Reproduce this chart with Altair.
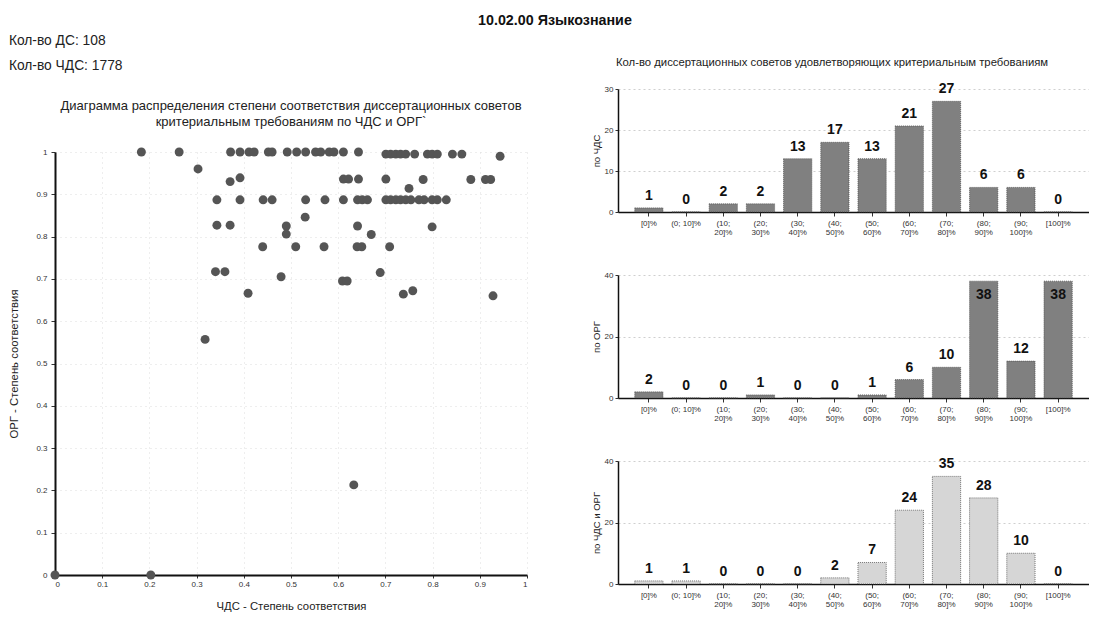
import altair as alt
import pandas as pd

FONT = "Liberation Sans"

# ---- scatter data (ЧДС vs ОРГ degree of compliance) ----
chds_x = [
    0.183, 0.263, 0.372, 0.392, 0.411, 0.422, 0.452, 0.460, 0.492, 0.512,
    0.531, 0.552, 0.563, 0.581, 0.591, 0.611, 0.643, 0.701, 0.711, 0.722,
    0.732, 0.743, 0.762, 0.789, 0.799, 0.810, 0.842, 0.862, 0.943,
    0.303,
    0.371, 0.392, 0.611, 0.622, 0.643, 0.701, 0.750, 0.780, 0.881, 0.912, 0.923,
    0.343, 0.392, 0.441, 0.460, 0.531, 0.572, 0.611, 0.641, 0.651, 0.662,
    0.701, 0.711, 0.722, 0.732, 0.743, 0.754, 0.771, 0.782, 0.799, 0.810, 0.829,
    0.530,
    0.343, 0.371, 0.490, 0.641, 0.799,
    0.490, 0.670,
    0.440, 0.510, 0.570, 0.640, 0.650, 0.709,
    0.340, 0.360, 0.479, 0.609, 0.619, 0.689,
    0.409, 0.738, 0.758, 0.928,
    0.318, 0.633,
    0.0, 0.203,
]
org_y = [
    1.0, 1.0, 1.0, 1.0, 1.0, 1.0, 1.0, 1.0, 1.0, 1.0,
    1.0, 1.0, 1.0, 1.0, 1.0, 1.0, 1.0, 0.995, 0.995, 0.995,
    0.995, 0.995, 0.995, 0.995, 0.995, 0.995, 0.995, 0.995, 0.99,
    0.96,
    0.930, 0.939, 0.936, 0.936, 0.936, 0.936, 0.914, 0.935, 0.935, 0.935, 0.935,
    0.887, 0.887, 0.887, 0.887, 0.887, 0.887, 0.887, 0.887, 0.887, 0.887,
    0.887, 0.887, 0.887, 0.887, 0.887, 0.887, 0.887, 0.887, 0.887, 0.887, 0.887,
    0.846,
    0.827, 0.827, 0.825, 0.825, 0.823,
    0.806, 0.805,
    0.776, 0.776, 0.776, 0.776, 0.776, 0.776,
    0.717, 0.717, 0.705, 0.695, 0.695, 0.715,
    0.666, 0.664, 0.672, 0.660,
    0.557, 0.213,
    0.0, 0.0,
]
scatter_ticks = [0, 0.1, 0.2, 0.3, 0.4, 0.5, 0.6, 0.7, 0.8, 0.9, 1]

scatter_title_lines = [
    "Диаграмма распределения степени соответствия диссертационных советов",
    "критериальным требованиям по ЧДС и ОРГ`",
]
info_lines = ["Кол-во ДС: 108", "Кол-во ЧДС: 1778"]
main_title = "10.02.00 Языкознание"
bars_header = "Кол-во диссертационных советов удовлетворяющих критериальным требованиям"

# ---- bar data ----
categories = ["[0]%", "(0; 10]%", "(10;|20]%", "(20;|30]%", "(30;|40]%", "(40;|50]%",
              "(50;|60]%", "(60;|70]%", "(70;|80]%", "(80;|90]%", "(90;|100]%", "[100]%"]
vals_chds = [1, 0, 2, 2, 13, 17, 13, 21, 27, 6, 6, 0]
vals_org = [2, 0, 0, 1, 0, 0, 1, 6, 10, 38, 12, 38]
vals_both = [1, 1, 0, 0, 0, 2, 7, 24, 35, 28, 10, 0]

ticks_chds = [0, 5, 10, 15, 20, 25, 30]
ticks_org = [0, 10, 20, 30, 40]

SC_W, SC_H = 472, 423
BAR_W, BAR_H = 471, 123

scatter_df = pd.DataFrame({"x": chds_x, "y": org_y})

# centred two-line heading of the scatter (text chart placed above it)
stitle_df = pd.DataFrame({"line": [0, 1], "text": scatter_title_lines})
stitle = alt.Chart(stitle_df).mark_text(
    align="center", baseline="middle", fontSize=13, font=FONT, color="#222"
).encode(
    x=alt.value(SC_W / 2),
    y=alt.Y("line:O", axis=None, scale=alt.Scale(padding=1.0625)),
    text="text:N",
).properties(width=SC_W, height=50)

scatter = alt.Chart(scatter_df).mark_circle(size=80, color="#555555", opacity=1).encode(
    x=alt.X("x:Q", scale=alt.Scale(domain=[0, 1], nice=False),
            axis=alt.Axis(values=scatter_ticks, format="~g", title="ЧДС - Степень соответствия",
                          titleFontSize=11.3, titleFontWeight="normal", titlePadding=12,
                          labelFontSize=8, domainWidth=2, tickSize=3,
                          grid=True, gridColor="#dcdcdc", gridDash=[1, 4])),
    y=alt.Y("y:Q", scale=alt.Scale(domain=[0, 1], nice=False),
            axis=alt.Axis(values=scatter_ticks, format="~g", title="ОРГ - Степень соответствия",
                          titleFontSize=11.3, titleFontWeight="normal", titlePadding=16,
                          labelFontSize=8, labelPadding=4, domainWidth=2, tickSize=4,
                          grid=True, gridColor="#dcdcdc", gridDash=[1, 4])),
).properties(width=SC_W, height=SC_H)

left = alt.vconcat(
    stitle, scatter, spacing=8,
    title=alt.TitleParams(info_lines, anchor="start", fontSize=13.8, fontWeight="normal",
                          lineHeight=25, offset=16, font=FONT, color="#222"),
)


def bar_chart(values, ytitle, ymax, yticks, color):
    df = pd.DataFrame({"cat": categories, "v": values})
    base = alt.Chart(df)
    xenc = alt.X("cat:N", sort=categories,
                 scale=alt.Scale(paddingInner=0.24, paddingOuter=0.45),
                 axis=alt.Axis(title=None, labelAngle=0, labelExpr="split(datum.label, '|')",
                               labelFontSize=8, labelLineHeight=9, labelPadding=3,
                               tickSize=4, domainWidth=1.5, labelColor="#333"))
    bars = base.mark_bar(color=color, stroke="#444", strokeDash=[1, 1], strokeWidth=0.7).encode(
        x=xenc,
        y=alt.Y("v:Q", scale=alt.Scale(domain=[0, ymax], nice=False),
                axis=alt.Axis(values=yticks, title=ytitle, titleFontSize=9.5,
                              titleFontWeight="normal", titlePadding=3,
                              labelFontSize=8, labelPadding=2, tickSize=3, domainWidth=1.5,
                              grid=True, gridColor="#cfcfcf", gridDash=[2, 3])),
    )
    labels = base.transform_calculate(
        ly=f"datum.v >= {ymax - 2} ? datum.v - 8.5 : datum.v"
    ).mark_text(dy=-12, fontWeight="bold", fontSize=14, font=FONT, color="#111").encode(
        x=alt.X("cat:N", sort=categories),
        y=alt.Y("ly:Q"),
        text=alt.Text("v:Q"),
    )
    return alt.layer(bars, labels).properties(width=BAR_W, height=BAR_H)


b1 = bar_chart(vals_chds, "по ЧДС", 30, ticks_chds, "#808080")
b2 = bar_chart(vals_org, "по ОРГ", 40, ticks_org, "#808080")
b3 = bar_chart(vals_both, "по ЧДС и ОРГ", 40, ticks_org, "#d6d6d6")

right = alt.vconcat(
    b1, b2, b3, spacing=35,
    title=alt.TitleParams(bars_header, anchor="middle", fontSize=11.3, fontWeight="normal",
                          offset=14, dx=-8, font=FONT, color="#222"),
)

chart = alt.hconcat(
    left, right, spacing=63,
    title=alt.TitleParams(main_title, fontSize=14.3, fontWeight="bold",
                          anchor="middle", offset=6, dx=6, font=FONT, color="#111"),
).properties(
    padding={"left": 0, "top": 5, "right": 0, "bottom": 0},
).configure(
    font=FONT, background="white"
).configure_view(
    strokeWidth=0, stroke="transparent"
).configure_axis(
    labelFont=FONT, titleFont=FONT, domainColor="#111", tickColor="#333",
    labelColor="#333", titleColor="#222",
)

chart.save("out.html", embed_options={"renderer": "svg", "actions": False})
